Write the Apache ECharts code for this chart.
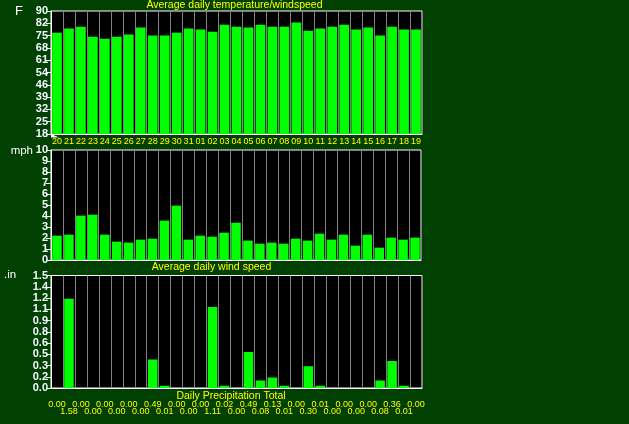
<!DOCTYPE html>
<html>
<head>
<meta charset="utf-8">
<script src="https://cdn.jsdelivr.net/npm/echarts@6/dist/echarts.min.js"></script>
<style>
html,body{margin:0;padding:0;background:#004000;}
#c{width:629px;height:424px;}
</style>
</head>
<body>
<div id="c"></div>
<script>
const days = ['20','21','22','23','24','25','26','27','28','29','30','31','01','02','03','04','05','06','07','08','09','10','11','12','13','14','15','16','17','18','19'];
const tempValues = [77.3,79.7,80.8,75.0,73.8,75.0,76.2,80.3,75.6,75.6,77.3,79.7,79.1,77.9,82.0,80.8,80.3,82.0,80.8,80.8,83.2,78.5,79.7,80.8,82.0,79.1,80.3,75.6,80.8,79.1,79.1];
const windValues = [2.21,2.3,4.03,4.12,2.3,1.67,1.58,1.85,1.94,3.58,4.94,1.85,2.21,2.12,2.48,3.39,1.76,1.48,1.58,1.48,1.94,1.76,2.39,1.85,2.3,1.3,2.3,1.12,2.03,1.85,2.03];
const precipBars = [0,1.19,0,0,0,0,0,0,0.38,0.03,0,0,0,1.08,0.03,0,0.48,0.10,0.14,0.03,0,0.29,0.03,0,0,0,0,0.10,0.36,0.03,0];
const precipLabels = ['0.00','1.58','0.00','0.00','0.00','0.00','0.00','0.00','0.49','0.01','0.00','0.00','0.00','1.11','0.02','0.00','0.49','0.08','0.13','0.01','0.00','0.30','0.01','0.00','0.00','0.00','0.00','0.08','0.36','0.01','0.00'];
const tempTicks = ['18','25','32','39','46','54','61','68','75','82','90'];
const windTicks = ['0','1','2','3','4','5','6','7','8','9','10'];
const precipTicks = ['0.0','0.2','0.3','0.5','0.6','0.8','0.9','1.1','1.2','1.4','1.5'];

const chart = echarts.init(document.getElementById('c'));
const LBL = '#f4fbff';
const YEL = '#ffff00';
const FONT = 'Liberation Sans';

function yAxisBase(grid, min, max, interval, ticks) {
  return {
    type: 'value', gridIndex: grid, min: min, max: max, interval: interval,
    axisLine: {show: true, lineStyle: {color: '#ffffff', width: 1}},
    axisTick: {show: true, length: 5, lineStyle: {color: '#ffffff'}},
    splitLine: {show: false},
    axisLabel: {
      color: LBL, fontSize: 11, fontWeight: 'bold', fontFamily: FONT, margin: 3,
      showMinLabel: true, showMaxLabel: true, hideOverlap: false,
      formatter: function (v) { return ticks[Math.round((v - min) / interval)]; }
    }
  };
}
function xAxisBase(grid) {
  return {
    type: 'category', gridIndex: grid, data: days, boundaryGap: true,
    axisLine: {show: true, lineStyle: {color: '#ffffff', width: 1}},
    axisTick: {show: false},
    splitLine: {show: true, interval: 0, lineStyle: {color: '#808080', width: 1}},
    axisLabel: {show: false}
  };
}

const x0 = xAxisBase(0);
x0.axisLabel = {show: true, color: YEL, fontSize: 9, fontFamily: FONT, margin: 3, interval: 0, hideOverlap: false};
const x1 = xAxisBase(1);
const x2 = xAxisBase(2);
x2.axisLabel = {show: true, color: YEL, fontSize: 9, fontFamily: FONT, margin: 12, hideOverlap: false,
  interval: function (i) { return i % 2 === 0; },
  formatter: function (v, i) { return precipLabels[i]; }};
const x3 = {
  type: 'category', gridIndex: 2, data: days, position: 'bottom', offset: 7,
  axisLine: {show: false}, axisTick: {show: false}, splitLine: {show: false},
  axisLabel: {show: true, color: YEL, fontSize: 9, fontFamily: FONT, margin: 12, hideOverlap: false,
    interval: function (i) { return i % 2 === 1; },
    formatter: function (v, i) { return precipLabels[i]; }}
};

const gridStyle = {show: true, backgroundColor: '#000000', borderColor: '#ffffff', borderWidth: 1};

const option = {
  backgroundColor: '#004000',
  animation: false,
  grid: [
    Object.assign({left: 51, top: 11, width: 371, height: 123}, gridStyle),
    Object.assign({left: 51, top: 150, width: 370, height: 110}, gridStyle),
    Object.assign({left: 51, top: 275.5, width: 371, height: 112.5}, gridStyle)
  ],
  xAxis: [x0, x1, x2, x3],
  yAxis: [
    yAxisBase(0, 18, 90, 7.2, tempTicks),
    yAxisBase(1, 0, 10, 1, windTicks),
    yAxisBase(2, 0, 1.5, 0.15, precipTicks)
  ],
  series: [
    {type: 'bar', xAxisIndex: 0, yAxisIndex: 0, data: tempValues, barWidth: 9.7, itemStyle: {color: '#00ff00'}},
    {type: 'bar', xAxisIndex: 1, yAxisIndex: 1, data: windValues, barWidth: 9.5, itemStyle: {color: '#00ff00'}},
    {type: 'bar', xAxisIndex: 2, yAxisIndex: 2, data: precipBars, barWidth: 9.5, itemStyle: {color: '#00ff00'}}
  ],
  graphic: [
    {type: 'text', x: 234.5, y: 5, style: {text: 'Average daily temperature/windspeed', fill: YEL, font: '10.5px ' + FONT, align: 'center', verticalAlign: 'middle'}},
    {type: 'text', x: 211.5, y: 267.5, style: {text: 'Average daily wind speed', fill: YEL, font: '10.5px ' + FONT, align: 'center', verticalAlign: 'middle'}},
    {type: 'text', x: 231, y: 396, style: {text: 'Daily Precipitation Total', fill: YEL, font: '10.5px ' + FONT, align: 'center', verticalAlign: 'middle'}},
    {type: 'text', x: 19, y: 11.5, style: {text: 'F', fill: '#ffffff', font: '13px ' + FONT, align: 'center', verticalAlign: 'middle'}},
    {type: 'text', x: 33, y: 150.5, style: {text: 'mph', fill: '#ffffff', font: '11.5px ' + FONT, align: 'right', verticalAlign: 'middle'}},
    {type: 'text', x: 4, y: 275, style: {text: '.in', fill: '#ffffff', font: '11.5px ' + FONT, align: 'left', verticalAlign: 'middle'}},
    {type: 'polygon', shape: {points: [[51, 134], [59, 137.5], [51, 137.5]]}, style: {fill: '#ffffff'}}
  ]
};
chart.setOption(option);
</script>
</body>
</html>
